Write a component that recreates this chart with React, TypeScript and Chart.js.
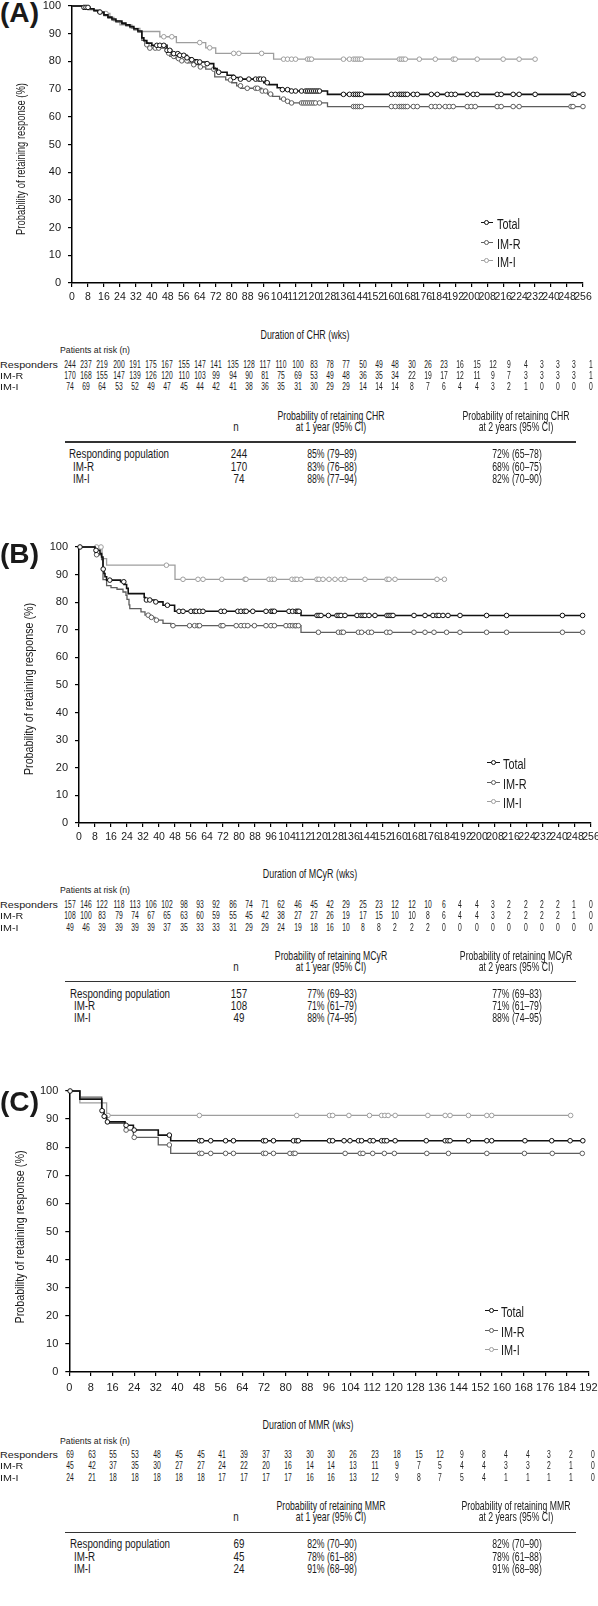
import React, { useEffect, useRef } from "react";
import { Chart, registerables } from "chart.js";
Chart.register(...registerables);

// ================= DATA =================
const GROUP_NAMES = ["Total", "IM-R", "IM-I"];
const RISK_ROW_NAMES = ["Responders", "IM-R", "IM-I"];
const SUMMARY_ROW_NAMES = ["Responding population", "IM-R", "IM-I"];

// ---- Panel A: Duration of CHR ----
const A_TOTAL_STEPS = [[0,100],[6,99.5],[9,99],[11,98.4],[13,97.8],[16,96.8],[18,96],[20,95.3],[22,94.6],[25,93.8],[27,93.2],[29,92.6],[31,91.8],[33,91],[35,88.5],[36,87.5],[37.5,86.6],[40,85.8],[47.6,84],[50,82.8],[53.4,82.2],[57.6,81.3],[60,80.6],[62.6,79.8],[67.7,79.2],[71,77.4],[72.7,76.1],[77.7,75],[81,74.2],[84.4,73.6],[96.1,72.3],[98.7,71.6],[102.8,70.5],[105.4,69.8],[109.5,69.3],[128,68.1]];
const A_IMR_STEPS = [[0,100],[6,99.4],[9,98.9],[11,98.2],[13,97.6],[16,96.5],[18,95.6],[20,94.9],[22,94.2],[25,93.4],[27,92.8],[29,92.2],[31,91.4],[33,90.6],[35,87.6],[36.5,86],[38,84.8],[47.6,83],[49,81.8],[52,81],[55,80.2],[58,79.5],[61,78.8],[64,78],[67,77.2],[71.5,74.4],[77,73.3],[80,72.3],[82.5,71.2],[84.5,70.3],[95,69.3],[98,68.2],[100.5,67.4],[104,66.4],[107,65.6],[109,65],[128,63.7]];
const A_IMI_STEPS = [[0,100],[8,98.6],[14,97.3],[19,95.9],[21,94.6],[24,93.2],[30,91.9],[34,90.8],[44,88.9],[52.3,86.8],[67,84.9],[72,82.9],[101,80.8]];
const A_TOTAL_CENSOR = [6,7,8,14,42.5,44,46,47.6,49,51,53,54,56,57.6,60,62.6,64,67.7,73.5,81,84.4,88.6,92,93.6,94.5,96,97.8,105.4,108,110,112,115,117,118,119,120,121,122,123,124,136,139,141,142,143,144,145,160,162,164,165,166,167,168,171,173,180,183,188,190,192,198,201,203,213,215,221,224,232,251,252,256];
const A_IMR_CENSOR = [37.5,39,41.7,43.4,48.4,51,53.4,55,57.6,61,64.3,71,79.4,84.4,87.8,92,93,95.3,97,99.5,106,108,110,115,116,117,118,119,120,121,122,124,141,142,143,144,145,160,162,164,165,166,167,168,171,173,180,182,184,187,189,191,198,200,202,213,215,221,224,250,251,256];
const A_IMI_CENSOR = [17,46,50,64,69,81,83.6,95,106,108,110,112,118,119,120,136,139,141,142,143,144,145,164,165,166,167,174,182,191,192,203,216,224,232];
const A_RISK_RESP = [244,237,219,200,191,175,167,155,147,141,135,128,117,110,100,83,78,77,50,49,48,30,26,23,16,15,12,9,4,3,3,3,1];
const A_RISK_IMR = [170,168,155,147,139,126,120,110,103,99,94,90,81,75,69,53,49,48,36,35,34,22,19,17,12,11,9,7,3,3,3,3,1];
const A_RISK_IMI = [74,69,64,53,52,49,47,45,44,42,41,38,36,35,31,30,29,29,14,14,14,8,7,6,4,4,3,2,1,0,0,0,0];
const A_N = ["244", "170", "74"];
const A_1Y = ["85% (79–89)", "83% (76–88)", "88% (77–94)"];
const A_2Y = ["72% (65–78)", "68% (60–75)", "82% (70–90)"];

// ---- Panel B: Duration of MCyR ----
const B_TOTAL_STEPS = [[0,100],[8,98.8],[10.5,97.6],[11.3,96.4],[12,92],[12.5,90.4],[13,89.2],[13.8,88],[20.8,87.4],[22.5,86.4],[23.8,85],[24.6,83.1],[32.6,81.7],[33.2,80.8],[38,80.1],[42,78.9],[47.8,76.7],[111,75.2]];
const B_IMR_STEPS = [[0,100],[8,97.2],[11.3,95.4],[12,88.2],[13.8,86],[16,85.3],[19,84.7],[22,83.7],[23.5,82.5],[24,81],[25,79],[25.4,77.7],[31,76.5],[33,75.3],[36,74.5],[38,73.5],[42,72.3],[46,71.5],[111,69.1]];
const B_IMI_STEPS = [[0,100],[11.5,95.8],[13.8,93.4],[48,88.3]];
const B_TOTAL_CENSOR = [0.5,8.5,12.1,15.4,22.4,33.7,35.4,38.4,44.2,50,52,56,57.8,58.6,60.3,62,71,72.7,79.4,81,82.7,83.6,86.9,93.5,96,96.9,97.7,105,106.8,108.5,109.3,110,119,120,121,124.7,129,130,131,133,139,141,142,143,145,148,154,155,156,157,167.5,173,177,179,180,182,184.5,190.5,203.8,213.8,241.7,251.8];
const B_IMR_CENSOR = [8.8,34.6,36.2,38.7,47,55.3,57.8,59.5,60.3,71,72,78.6,81,82.7,84.4,87.7,93.5,96,97.7,103.5,105.5,106.8,108,108.5,109.7,119.7,129.7,131.3,132.2,139.7,141.3,144.7,146.3,153.8,155.5,167.5,173,177.5,183.8,190.5,203.8,213.8,241.7,251.8];
const B_IMI_CENSOR = [8.8,11,43.7,52,59.5,62,71.4,83,83.5,95,96.5,97.7,106.5,108,109,111,119,120,122,125,128,131,133,143,154,155,158,179,182.7];
const B_RISK_RESP = [157,146,122,118,113,106,102,98,93,92,86,74,71,62,46,45,42,29,25,23,12,12,10,6,4,4,3,2,2,2,2,1,0];
const B_RISK_IMR = [108,100,83,79,74,67,65,63,60,59,55,45,42,38,27,27,26,19,17,15,10,10,8,6,4,4,3,2,2,2,2,1,0];
const B_RISK_IMI = [49,46,39,39,39,39,37,35,33,33,31,29,29,24,19,18,16,10,8,8,2,2,2,0,0,0,0,0,0,0,0,0,0];
const B_N = ["157", "108", "49"];
const B_1Y = ["77% (69–83)", "71% (61–79)", "88% (74–95)"];
const B_2Y = ["77% (69–83)", "71% (61–79)", "88% (74–95)"];

// ---- Panel C: Duration of MMR ----
const C_TOTAL_STEPS = [[0,100],[3.9,97.1],[12,93],[12.8,91],[13.8,89],[20.6,87.8],[23.7,86.1],[32.9,84.3],[37.5,82.3]];
const C_IMR_STEPS = [[0,100],[3.9,97.8],[12,93.3],[12.8,91.1],[13.8,88.5],[20.6,86.1],[23.7,83.5],[32.9,80.8],[37.5,77.8]];
const C_IMI_STEPS = [[0,100],[3.9,95.8],[13.8,91.3]];
const C_TOTAL_CENSOR = [0.3,12.1,12.9,14.1,21,24,37,48.1,49,52.3,57.8,60.7,71.8,72.6,75.5,82.9,84.1,84.7,96.2,97.4,101.6,103.8,106.9,108.1,111.2,112.4,115.5,116.5,117.4,120.5,132,139,140,140.8,147.6,154.4,156.2,168.5,178.4,185.2,189.9];
const C_IMR_CENSOR = [21,24,37,48.1,49,52.3,57.8,60.7,71.8,72.6,75.5,81.6,82.9,83.5,102,107.6,108.6,112.2,116.5,120.2,132.2,140.2,154.4,168.3,178.6,189.7];
const C_IMI_CENSOR = [14.3,48.1,84.1,96.2,97.4,103.4,111,115.5,116.7,117.9,120.5,132.6,139,140.8,147.6,154.4,156.2,185.4];
const C_RISK_RESP = [69,63,55,53,48,45,45,41,39,37,33,30,30,26,23,18,15,12,9,8,4,4,3,2,0];
const C_RISK_IMR = [45,42,37,35,30,27,27,24,22,20,16,14,14,13,11,9,7,5,4,4,3,3,2,1,0];
const C_RISK_IMI = [24,21,18,18,18,18,18,17,17,17,17,16,16,13,12,9,8,7,5,4,1,1,1,1,0];
const C_N = ["69", "45", "24"];
const C_1Y = ["82% (70–90)", "78% (61–88)", "91% (68–98)"];
const C_2Y = ["82% (70–90)", "78% (61–88)", "91% (68–98)"];

// ================= STYLE =================
const NARROW = '"Liberation Sans Narrow", "Arial Narrow", "Liberation Sans", Arial, sans-serif';
const SANS = '"Liberation Sans", Arial, Helvetica, sans-serif';
const INK = "#1a1a1a";
const COLORS = ["#111111", "#5e5e5e", "#9e9e9e"];
const WIDTHS = [1.6, 1.3, 1.3];

let _mctx: CanvasRenderingContext2D | null = null;
function textWidth(text: string, size: number, family: string, weight = 400) {
  if (!_mctx) _mctx = document.createElement("canvas").getContext("2d");
  _mctx!.font = `${weight} ${size}px ${family}`;
  return _mctx!.measureText(text).width;
}
// horizontal scale that makes `text` (at `size`) span `target` px
function fitScale(text: string, size: number, target: number, family = SANS, weight = 400) {
  const w = textWidth(text, size, family, weight);
  return w > 0 ? target / w : 1;
}

function levelAt(steps: number[][], t: number) {
  let v = steps[0][1];
  for (const [x, y] of steps) if (x <= t) v = y;
  return v;
}

type KMProps = {
  top: number; height: number; yWidth: number; padTop: number; padRight: number;
  xMax: number; xFont: { family: string; size: number }; xPad: number;
  steps: number[][][]; censors: number[][];
};

function KMChart(p: KMProps) {
  const ref = useRef<HTMLCanvasElement>(null);
  useEffect(() => {
    const datasets: any[] = [];
    p.steps.forEach((st, gi) => {
      const cens = p.censors[gi];
      const end = Math.max(st[st.length - 1][0], ...cens);
      datasets.push({
        label: GROUP_NAMES[gi] + " censored",
        data: cens.map((t) => ({ x: t, y: levelAt(st, t) })),
        showLine: false,
        pointStyle: "circle",
        pointRadius: 2.3,
        pointBorderWidth: 1,
        pointBorderColor: COLORS[gi],
        pointBackgroundColor: "#ffffff",
        clip: false,
      });
      datasets.push({
        label: GROUP_NAMES[gi],
        data: [...st.map(([x, y]) => ({ x, y })), { x: end, y: st[st.length - 1][1] }],
        stepped: true,
        borderColor: COLORS[gi],
        borderWidth: WIDTHS[gi],
        pointRadius: 0,
        fill: false,
        clip: false,
      });
    });
    const chart = new Chart(ref.current!, {
      type: "line",
      data: { datasets },
      options: {
        responsive: false,
        animation: false,
        events: [],
        layout: { padding: { left: 0, right: p.padRight, top: p.padTop, bottom: 0 } },
        plugins: { legend: { display: false }, tooltip: { enabled: false } },
        scales: {
          x: {
            type: "linear",
            min: 0,
            max: p.xMax,
            ticks: { stepSize: 8, autoSkip: false, maxRotation: 0, color: INK, font: p.xFont, padding: p.xPad },
            grid: { drawOnChartArea: false, drawTicks: true, tickLength: 4, color: "#000", lineWidth: 1.2 },
            border: { display: true, color: "#000", width: 1.5 },
            afterFit: (s: any) => { s.height = 22; s.paddingLeft = 0; s.paddingRight = 0; },
          },
          y: {
            type: "linear",
            min: 0,
            max: 100,
            ticks: { stepSize: 10, color: INK, font: { family: SANS, size: 11 }, padding: 7 },
            grid: { drawOnChartArea: false, drawTicks: true, tickLength: 4, color: "#000", lineWidth: 1.2 },
            border: { display: true, color: "#000", width: 1.5 },
            afterFit: (s: any) => { s.width = p.yWidth; s.paddingTop = 0; s.paddingBottom = 0; },
          },
        },
      } as any,
    });
    return () => chart.destroy();
  }, []);
  return (
    <canvas
      ref={ref}
      width={598}
      height={p.height}
      style={{ position: "absolute", left: 0, top: p.top, width: 598, height: p.height }}
    />
  );
}

function Txt(props: { x: number; y: number; size: number; align?: "left" | "center" | "right"; sx?: number; family?: string; bold?: boolean; rotate?: boolean; children: any }) {
  const { x, y, size, align = "left", sx = 1, family = SANS, bold = false, rotate = false } = props;
  const tx = align === "left" ? "0" : align === "center" ? "-50%" : "-100%";
  const ox = align === "left" ? "0%" : align === "center" ? "50%" : "100%";
  const transform = rotate
    ? `translate(-50%,-50%) rotate(-90deg) scaleX(${sx})`
    : `translate(${tx},-50%) scaleX(${sx})`;
  return (
    <div
      style={{
        position: "absolute",
        left: x,
        top: y,
        transform,
        transformOrigin: rotate ? "50% 50%" : `${ox} 50%`,
        fontSize: size,
        lineHeight: 1,
        whiteSpace: "nowrap",
        fontFamily: family,
        fontWeight: bold ? 700 : 400,
        color: INK,
      }}
    >
      {props.children}
    </div>
  );
}

type PanelLayout = {
  letter: string; letterY: number;
  chart: { top: number; height: number; yWidth: number; padTop: number; padRight: number; xMax: number; xFont: { family: string; size: number }; xPad: number };
  yTitle: { x: number; y: number; len: number };
  legend: { lineX: number; textX: number; ys: number[] };
  durTitle: { x: number; y: number; text: string };
  patientsY: number;
  riskYs: number[]; riskX0: number; riskPitch: number;
  sum: { hY: number[]; nX: number; c1X: number; c2X: number; ruleY: number; ruleX0: number; ruleX1: number; rowYs: number[]; labelX: number[]; nValX: number; abbr: string };
};

const TS = 13.4;
const Y_TITLE = "Probability of retaining response (%)";

function Panel({ L, steps, censors, risk, n, v1, v2 }: { L: PanelLayout; steps: number[][][]; censors: number[][]; risk: number[][]; n: string[]; v1: string[]; v2: string[] }) {
  const bodySx = fitScale("Responding population", TS, 100);
  const headSx = fitScale("Probability of retaining CHR", TS, 107);
  const durSx = fitScale("Duration of CHR (wks)", 13, 89);
  const legSx = fitScale("Total", 15, 23);
  const ySx = fitScale(Y_TITLE, 13, L.yTitle.len);
  const numSx = fitScale("244", 10, 11.3);
  const labSx = fitScale("Responders", 9.5, 58);
  const patSx = fitScale("Patients at risk (n)", 9, 70);
  const letSx = fitScale("(A)", 28, 39, SANS, 700);
  return (
    <>
      <Txt x={0} y={L.letterY} size={28} sx={letSx} bold>{`(${L.letter})`}</Txt>
      <KMChart {...L.chart} steps={steps} censors={censors} />
      <Txt x={L.yTitle.x} y={L.yTitle.y} size={13} sx={ySx} rotate>{Y_TITLE}</Txt>
      {GROUP_NAMES.map((g, i) => (
        <React.Fragment key={g}>
          <div style={{ position: "absolute", left: L.legend.lineX, top: L.legend.ys[i] - 0.75, width: 12.5, height: 1.5, background: COLORS[i] }} />
          <div style={{ position: "absolute", left: L.legend.lineX + 6.25 - 2.4, top: L.legend.ys[i] - 2.4, width: 4.8, height: 4.8, borderRadius: "50%", border: `1px solid ${COLORS[i]}`, background: "#fff", boxSizing: "border-box" }} />
          <Txt x={L.legend.textX} y={L.legend.ys[i]} size={15} sx={legSx}>{g}</Txt>
        </React.Fragment>
      ))}
      <Txt x={L.durTitle.x} y={L.durTitle.y} size={13} sx={durSx} align="center">{L.durTitle.text}</Txt>
      <Txt x={60} y={L.patientsY} size={9} sx={patSx}>Patients at risk (n)</Txt>
      {RISK_ROW_NAMES.map((r, ri) => (
        <React.Fragment key={r}>
          <Txt x={0} y={L.riskYs[ri]} size={9.5} sx={labSx}>{r}</Txt>
          {risk[ri].map((v, i) => (
            <Txt key={i} x={L.riskX0 + i * L.riskPitch} y={L.riskYs[ri]} size={10} sx={numSx} align="center">{v}</Txt>
          ))}
        </React.Fragment>
      ))}
      <Txt x={L.sum.nX} y={L.sum.hY[1]} size={TS} sx={bodySx} align="center">n</Txt>
      <Txt x={L.sum.c1X} y={L.sum.hY[0]} size={TS} sx={headSx} align="center">{`Probability of retaining ${L.sum.abbr}`}</Txt>
      <Txt x={L.sum.c1X} y={L.sum.hY[1]} size={TS} sx={headSx} align="center">at 1 year (95% CI)</Txt>
      <Txt x={L.sum.c2X} y={L.sum.hY[0]} size={TS} sx={headSx} align="center">{`Probability of retaining ${L.sum.abbr}`}</Txt>
      <Txt x={L.sum.c2X} y={L.sum.hY[1]} size={TS} sx={headSx} align="center">at 2 years (95% CI)</Txt>
      <div style={{ position: "absolute", left: L.sum.ruleX0, top: L.sum.ruleY - 0.9, width: L.sum.ruleX1 - L.sum.ruleX0, height: 1.8, background: "#333" }} />
      {SUMMARY_ROW_NAMES.map((r, ri) => (
        <React.Fragment key={r}>
          <Txt x={L.sum.labelX[ri]} y={L.sum.rowYs[ri]} size={TS} sx={bodySx}>{r}</Txt>
          <Txt x={L.sum.nValX} y={L.sum.rowYs[ri]} size={TS} sx={bodySx} align="center">{n[ri]}</Txt>
          <Txt x={L.sum.c1X + 1} y={L.sum.rowYs[ri]} size={TS} sx={headSx} align="center">{v1[ri]}</Txt>
          <Txt x={L.sum.c2X + 1} y={L.sum.rowYs[ri]} size={TS} sx={headSx} align="center">{v2[ri]}</Txt>
        </React.Fragment>
      ))}
    </>
  );
}

const LAYOUT_A: PanelLayout = {
  letter: "A", letterY: 13,
  chart: { top: 0, height: 305, yWidth: 72, padTop: 6, padRight: 15, xMax: 256, xFont: { family: NARROW, size: 10.5 }, xPad: 4 },
  yTitle: { x: 20, y: 159, len: 152 },
  legend: { lineX: 480.5, textX: 497.3, ys: [222.7, 242.7, 260.7] },
  durTitle: { x: 305, y: 334, text: "Duration of CHR (wks)" },
  patientsY: 350,
  riskYs: [364.5, 375.8, 387], riskX0: 69.7, riskPitch: 16.28,
  sum: { hY: [415.5, 427], nX: 236, c1X: 331, c2X: 516, ruleY: 442, ruleX0: 65, ruleX1: 576, rowYs: [454, 466.5, 479], labelX: [69, 73, 73], nValX: 239, abbr: "CHR" },
};
const LAYOUT_B: PanelLayout = {
  letter: "B", letterY: 554,
  chart: { top: 540, height: 305, yWidth: 79, padTop: 7, padRight: 7, xMax: 256, xFont: { family: NARROW, size: 10.5 }, xPad: 4 },
  yTitle: { x: 28, y: 689, len: 172 },
  legend: { lineX: 487.3, textX: 503.3, ys: [762.7, 782.7, 801.7] },
  durTitle: { x: 310, y: 873, text: "Duration of MCyR (wks)" },
  patientsY: 890,
  riskYs: [904.5, 915.8, 927.5], riskX0: 69.7, riskPitch: 16.28,
  sum: { hY: [955.5, 967], nX: 236, c1X: 331, c2X: 516, ruleY: 981.5, ruleX0: 65, ruleX1: 576, rowYs: [993.5, 1006, 1018.3], labelX: [70, 74, 74], nValX: 239, abbr: "MCyR" },
};
const LAYOUT_C: PanelLayout = {
  letter: "C", letterY: 1102,
  chart: { top: 1084, height: 310, yWidth: 69.3, padTop: 7, padRight: 9.5, xMax: 192, xFont: { family: SANS, size: 11 }, xPad: 5 },
  yTitle: { x: 18.5, y: 1237, len: 173 },
  legend: { lineX: 485, textX: 500.7, ys: [1310.7, 1330.7, 1349.3] },
  durTitle: { x: 308, y: 1423.5, text: "Duration of MMR (wks)" },
  patientsY: 1440.7,
  riskYs: [1454.5, 1465.8, 1477.5], riskX0: 69.7, riskPitch: 21.8,
  sum: { hY: [1505.5, 1517], nX: 236, c1X: 331, c2X: 516, ruleY: 1532.5, ruleX0: 65, ruleX1: 576, rowYs: [1544.3, 1556.5, 1568.7], labelX: [70, 74, 74], nValX: 239, abbr: "MMR" },
};

export default function App() {
  return (
    <div style={{ position: "absolute", left: 0, top: 0, width: 598, height: 1606, background: "#fff", overflow: "hidden" }}>
      <Panel
        L={LAYOUT_A}
        steps={[A_TOTAL_STEPS, A_IMR_STEPS, A_IMI_STEPS]}
        censors={[A_TOTAL_CENSOR, A_IMR_CENSOR, A_IMI_CENSOR]}
        risk={[A_RISK_RESP, A_RISK_IMR, A_RISK_IMI]}
        n={A_N} v1={A_1Y} v2={A_2Y}
      />
      <Panel
        L={LAYOUT_B}
        steps={[B_TOTAL_STEPS, B_IMR_STEPS, B_IMI_STEPS]}
        censors={[B_TOTAL_CENSOR, B_IMR_CENSOR, B_IMI_CENSOR]}
        risk={[B_RISK_RESP, B_RISK_IMR, B_RISK_IMI]}
        n={B_N} v1={B_1Y} v2={B_2Y}
      />
      <Panel
        L={LAYOUT_C}
        steps={[C_TOTAL_STEPS, C_IMR_STEPS, C_IMI_STEPS]}
        censors={[C_TOTAL_CENSOR, C_IMR_CENSOR, C_IMI_CENSOR]}
        risk={[C_RISK_RESP, C_RISK_IMR, C_RISK_IMI]}
        n={C_N} v1={C_1Y} v2={C_2Y}
      />
    </div>
  );
}
